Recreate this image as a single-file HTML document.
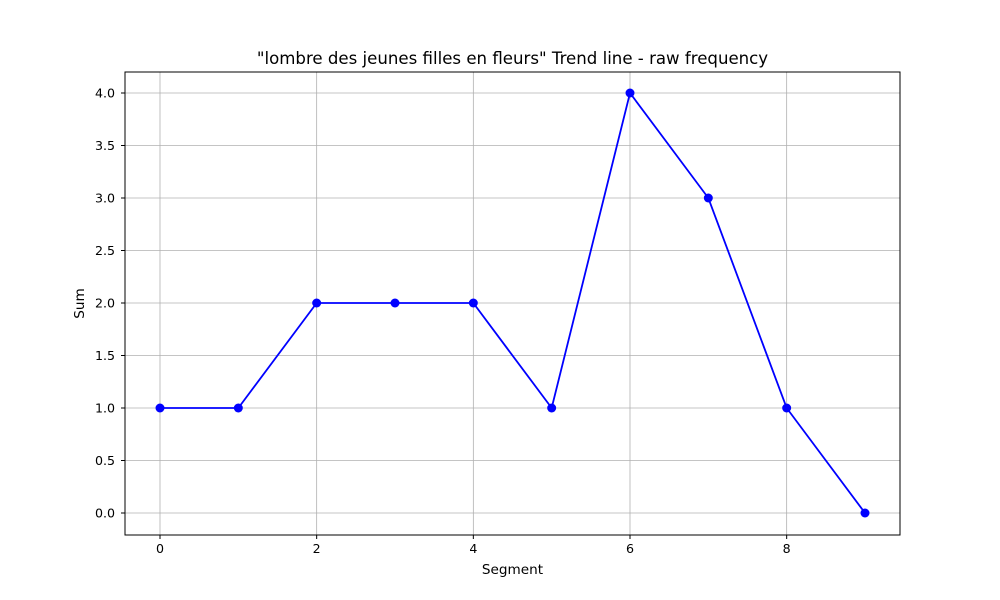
<!DOCTYPE html>
<html><head><meta charset="utf-8"><style>
body{margin:0;background:#fff;}
svg{display:block;font-family:"DejaVu Sans","Liberation Sans",sans-serif;}
</style></head><body>
<svg id="chart" width="1000" height="600">
<rect width="1000" height="600" fill="#fff"/>
</svg>
<script>
const categories=[0,1,2,3,4,5,6,7,8,9];
const sums=[1,1,2,2,2,1,4,3,1,0];
const xTicks=[0,2,4,6,8];
const yTicks=[0,0.5,1,1.5,2,2.5,3,3.5,4];
const L=125,R=900,T=72,B=535;
const xs=v=>160+(865-160)*(v-0)/9;
const ys=v=>513-(513-93)*v/4;
const svg=document.getElementById('chart');
const NS='http://www.w3.org/2000/svg';
function mk(tag,attrs,parent){const e=document.createElementNS(NS,tag);for(const k in attrs)e.setAttribute(k,attrs[k]);(parent||svg).appendChild(e);return e;}
const grid=mk('g',{});


xTicks.forEach(t=>{mk('line',{x1:xs(t),x2:xs(t),y1:T,y2:B,stroke:'#b0b0b0','stroke-width':0.8},grid);});
yTicks.forEach(t=>{mk('line',{x1:L,x2:R,y1:ys(t),y2:ys(t),stroke:'#b0b0b0','stroke-width':0.8},grid);});
const xa=mk('g',{});


xTicks.forEach(t=>{mk('line',{x1:xs(t),x2:xs(t),y1:B,y2:B+4,stroke:'#000'},xa);
const tx=mk('text',{x:xs(t),y:B+18,'font-size':12.6,'text-anchor':'middle'},xa);tx.textContent=t;});
const ya=mk('g',{});


yTicks.forEach(t=>{mk('line',{x1:L-4,x2:L,y1:ys(t),y2:ys(t),stroke:'#000'},ya);
const tx=mk('text',{x:L-10,y:ys(t)+4.5,'font-size':12.6,'text-anchor':'end'},ya);tx.textContent=t.toFixed(1);});
const pts=categories.map((c,i)=>xs(c)+','+ys(sums[i])).join(' ');
const line=mk('polyline',{points:pts,fill:'none',stroke:'#0000ff','stroke-width':1.8});


categories.forEach((c,i)=>{const p=mk('circle',{cx:xs(c),cy:ys(sums[i]),r:4.5,fill:'#0000ff'});

});
mk('rect',{x:L,y:T,width:R-L,height:B-T,fill:'none',stroke:'#000','stroke-width':1});
const title=mk('text',{x:512.5,y:64,'font-size':16.6,'text-anchor':'middle'});
title.textContent='"lombre des jeunes filles en fleurs" Trend line - raw frequency';


const xl=mk('text',{x:512.5,y:574,'font-size':13.6,'text-anchor':'middle'});
xl.textContent='Segment';


const yl=mk('text',{x:84,y:303.5,'font-size':13.6,'text-anchor':'middle',transform:'rotate(-90 84 303.5)'});
yl.textContent='Sum';


</script>
</body></html>
